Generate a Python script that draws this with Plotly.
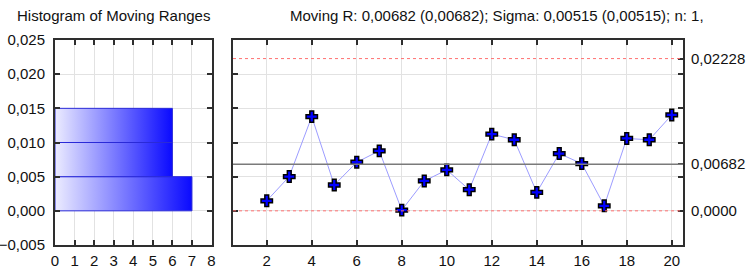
import plotly.graph_objects as go

# ---------------- data ----------------
sample = list(range(2, 21))
moving_range = [0.00147, 0.00502, 0.01378, 0.00378, 0.00711, 0.00878, 0.00010, 0.00437,
                0.00599, 0.00309, 0.01123, 0.01040, 0.00270, 0.00838, 0.00691, 0.00074,
                0.01059, 0.01040, 0.01403]
bin_lo = [0.000, 0.005, 0.010]
bin_hi = [0.005, 0.010, 0.015]
bin_count = [7, 6, 6]
ucl = 0.02228
center = 0.00682
lcl = 0.0
ctrl_vals = [lcl, center, ucl]
ctrl_text = ["0,0000", "0,00682", "0,02228"]
x_ticks_right = list(range(2, 21, 2))
title_left = "Histogram of Moving Ranges"
title_right = "Moving R: 0,00682 (0,00682); Sigma: 0,00515 (0,00515); n: 1,"

W, H = 748, 270
FONT = "Liberation Sans, Arial, sans-serif"
FRAME = "#2e2e2e"
GRID = "#e2e2e2"

def px_x(p):
    return p / W

def px_y(p):
    return 1 - p / H

fig = go.Figure()

# histogram bars (horizontal, gradient fill)
for lo, hi, c in zip(bin_lo, bin_hi, bin_count):
    fig.add_trace(go.Scatter(
        x=[0, c, c, 0, 0], y=[lo, lo, hi, hi, lo],
        mode="lines", fill="toself",
        fillgradient=dict(type="horizontal", start=0, stop=c,
                          colorscale=[[0, "#ececff"], [1, "#0a0aff"]]),
        line=dict(color="#2a2ad8", width=1),
        xaxis="x", yaxis="y", showlegend=False, hoverinfo="skip"))

# control lines
for val, col, dash, wd in [(ucl, "#ff7070", "dot", 1), (lcl, "#ff7070", "dot", 1),
                           (center, "#7a7a7a", "solid", 1.5)]:
    fig.add_shape(type="line", xref="x2 domain", yref="y2", x0=0, x1=1, y0=val, y1=val,
                  line=dict(color=col, width=wd, dash=dash), layer="above")

# moving range series
fig.add_trace(go.Scatter(
    x=sample, y=moving_range, mode="lines+markers",
    line=dict(color="#9c9cff", width=1),
    marker=dict(symbol="cross", size=9.5, color="#0000ff", line=dict(color="#000000", width=1.5)),
    xaxis="x2", yaxis="y2", showlegend=False))

# invisible trace to activate y3
fig.add_trace(go.Scatter(x=[sample[0]], y=[center], mode="markers", marker=dict(opacity=0),
                         xaxis="x2", yaxis="y3", showlegend=False, hoverinfo="skip"))

yd = [px_y(245), px_y(40)]
axis_common = dict(showline=True, linecolor=FRAME, linewidth=2, ticks="inside", ticklen=5,
                   tickcolor=FRAME, tickwidth=1.5, showgrid=True, gridcolor=GRID, gridwidth=1,
                   zeroline=False, automargin=False,
                   tickfont=dict(family=FONT, size=15, color="#111111"))

fig.update_layout(
    template="none",
    width=W, height=H, margin=dict(l=0, r=0, t=0, b=0, pad=0), autosize=False,
    paper_bgcolor="white", plot_bgcolor="white", separators=",.",
    font=dict(family=FONT, size=15, color="#111111"),
    xaxis=dict(domain=[px_x(55), px_x(211.5)], range=[0, 8], dtick=1, anchor="y",
               mirror="ticks", ticklabelstandoff=1, **axis_common),
    yaxis=dict(domain=yd, range=[-0.005, 0.025], dtick=0.005, tickformat=".3f", anchor="x",
               mirror="ticks", ticklabelstandoff=5, **axis_common),
    xaxis2=dict(domain=[px_x(233), px_x(683)], range=[0.5, 20.5], tickvals=x_ticks_right,
                anchor="y2", mirror="ticks", ticklabelstandoff=1, **axis_common),
    yaxis2=dict(domain=yd, range=[-0.005, 0.025], dtick=0.005, showticklabels=False,
                anchor="x2", mirror="ticks", **axis_common),
    yaxis3=dict(overlaying="y2", side="right", anchor="x2", range=[-0.005, 0.025],
                tickvals=ctrl_vals, ticktext=ctrl_text, ticks="inside", ticklen=5,
                tickcolor=FRAME, tickwidth=1.5, showgrid=False, zeroline=False, showline=False,
                automargin=False, ticklabelstandoff=7,
                tickfont=dict(family=FONT, size=15, color="#111111")),
    annotations=[
        dict(text=title_left, xref="paper", yref="paper", x=px_x(15), y=px_y(15),
             xanchor="left", yanchor="middle", showarrow=False,
             font=dict(family=FONT, size=15, color="#111111")),
        dict(text=title_right, xref="paper", yref="paper", x=px_x(288), y=px_y(15),
             xanchor="left", yanchor="middle", showarrow=False,
             font=dict(family=FONT, size=15, color="#111111")),
    ],
)

fig.write_html("out.html", config={"displayModeBar": False},
               post_script="document.body.style.margin='0';")
